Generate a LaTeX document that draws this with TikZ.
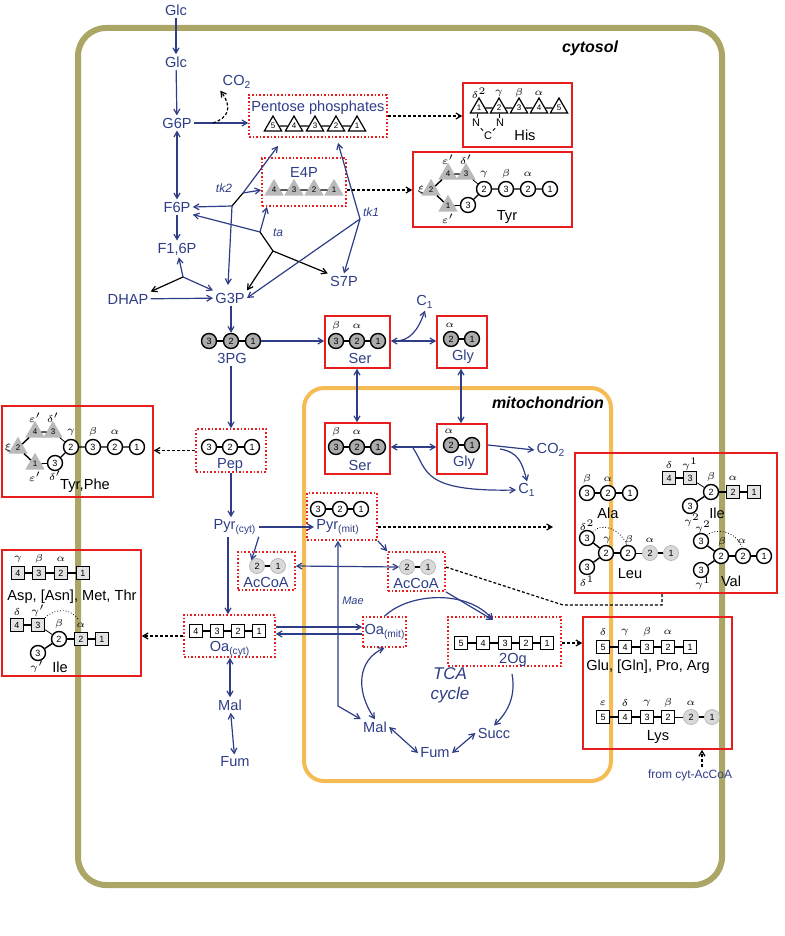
\documentclass[tikz,border=0pt]{standalone}
\usepackage{fontspec}
\setmainfont{Liberation Sans}
\usetikzlibrary{arrows.meta,shapes.geometric,fit}
\definecolor{myblue}{RGB}{46,61,134}
\definecolor{olive}{RGB}{172,166,102}
\definecolor{orng}{RGB}{245,188,85}
\definecolor{myred}{RGB}{232,30,30}
\newcommand\ileunit[4]{%
\begin{scope}[shift={(#2,#3)}]
\node[sg] (#1a) at (17,625) {4};
\node[sg] (#1b) at (38,625) {3};
\node[c] (#1c) at (59,639) {2};
\node[sg] (#1d) at (81,639) {2};
\node[sg] (#1e) at (102,639) {1};
\node[c] (#1f) at (38,653) {3};
\draw[bnd] (#1a)--(#1b); \draw[thin] (#1b)--(#1c); \draw[bnd] (#1c)--(#1d)--(#1e); \draw[bnd] (#1c)--(#1f);
\node[gk] at (17,612) {$\delta$};
\node[gk] at (38,611) {$#4$};
\node[gk] at (59,624) {$\beta$};
\node[gk] at (81,625) {$\alpha$};
\end{scope}}
\newcommand\tyrunit[3]{%
\begin{scope}[shift={(#2,#3)}]
\node[tg] (#1x) at (431,190) {2};
\node[tg] (#1d) at (448,174) {4};
\node[tg] (#1e) at (466,174) {3};
\node[tg] (#1a) at (448,206) {1};
\node[c] (#1f) at (468,205) {3};
\node[c] (#1g) at (484,189) {2};
\node[c] (#1h) at (506,189) {3};
\node[c] (#1i) at (528,189) {2};
\node[c] (#1j) at (550,189) {1};
\draw[bnd] (#1x)--(#1d)--(#1e); \draw[thin] (#1e)--(#1g);
\draw[bnd] (#1x)--(#1a); \draw[thin] (#1a)--(#1f); \draw[bnd] (#1f)--(#1g)--(#1h)--(#1i)--(#1j);
\node[gk] at (421,190) {$\xi$};
\node[gk] at (448,160) {$\varepsilon'$};
\node[gk] at (466,160) {$\delta'$};
\node[gk] at (484,174) {$\gamma$};
\node[gk] at (506,174) {$\beta$};
\node[gk] at (528,174) {$\alpha$};
\node[gk] at (448,219) {$\varepsilon'$};
\end{scope}}
\begin{document}
\begin{tikzpicture}[x=0.5pt,y=-0.5pt,
 >={Straight Barb[angle=60:3pt]},
 lbl/.style={text=myblue,font=\fontsize{7.3}{8}\selectfont,inner sep=1pt},
 aa/.style={font=\fontsize{7.3}{8}\selectfont,inner sep=1pt},
 c/.style={circle,draw,line width=0.7pt,fill=white,minimum size=7.5pt,inner sep=0pt,font=\fontsize{4.5}{5}\selectfont},
 cg/.style={c,fill=gray!65},
 cl/.style={c,fill=gray!30,draw=gray!55,line width=0.4pt},
 s/.style={rectangle,draw,line width=0.7pt,fill=white,minimum size=6.5pt,inner sep=0pt,font=\fontsize{4.5}{5}\selectfont},
 sg/.style={s,fill=gray!22},
 t/.style={regular polygon,regular polygon sides=3,draw,line width=0.6pt,fill=white,minimum size=10pt,inner sep=0pt,font=\fontsize{4}{4}\selectfont},
 tg/.style={t,fill=gray!55,draw=gray!55},
 gk/.style={font=\fontsize{4.5}{5}\selectfont,inner sep=0pt},
 bnd/.style={line width=0.7pt},
 pbox/.style={draw=myred,densely dotted,line width=0.8pt,inner sep=0pt},
 abox/.style={draw=myred,line width=0.8pt,inner sep=0pt},
 arr/.style={myblue,line width=0.6pt,->},
 darr/.style={myblue,line width=0.6pt,<->},
 blk/.style={black,line width=0.6pt},
 dot/.style={black,line width=0.6pt,dash pattern=on 1.5pt off 1pt}]
\useasboundingbox (0,0) rectangle (785,936);
% compartments
\draw[olive,line width=3pt,rounded corners=14pt] (78,28) rectangle (722,885);
\node[font=\bfseries\itshape\fontsize{8}{9}\selectfont] (cyt) at (590,48) {cytosol};
\draw[orng,line width=2pt,rounded corners=10pt] (304,388) rectangle (611,781);
\node[font=\bfseries\itshape\fontsize{8}{9}\selectfont] (mit) at (548,403) {mitochondrion};
% upper glycolysis labels
\node[lbl] (glc0) at (176,10) {Glc};
\node[lbl] (glc) at (176,62) {Glc};
\node[lbl] (g6p) at (177,123) {G6P};
\node[lbl] (co2a) at (237,82) {CO\textsubscript{2}};
\node[lbl] (f6p) at (177,207) {F6P};
\node[lbl] (f16p) at (177,249) {F1,6P};
\node[lbl] (dhap) at (128,299) {DHAP};
\node[lbl] (g3p) at (230,298) {G3P};
\node[lbl] (s7p) at (344,281) {S7P};
\node[lbl,font=\itshape\fontsize{6}{7}\selectfont] (tk2) at (224,188) {tk2};
\node[lbl,font=\itshape\fontsize{6}{7}\selectfont] (ta) at (278,233) {ta};
\node[lbl,font=\itshape\fontsize{6}{7}\selectfont] (tk1) at (371,212) {tk1};
% pentose phosphates
\node[pbox,fit={(249,95) (387,137)}] (pp) {};
\node[lbl] (ppl) at (318,108) {Pentose phosphates};
\node[t] (p5) at (273,126) {5};
\node[t] (p4) at (294,126) {4};
\node[t] (p3) at (315,126) {3};
\node[t] (p2) at (336,126) {2};
\node[t] (p1) at (357,126) {1};
\draw[bnd] (p5)--(p4)--(p3)--(p2)--(p1);
% E4P
\node[pbox,fit={(262,158) (346,206)}] (e4p) {};
\node[lbl] (e4pl) at (304,172) {E4P};
\node[tg] (e4) at (274,190) {4};
\node[tg] (e3) at (294,190) {3};
\node[tg] (e2) at (314,190) {2};
\node[tg] (e1) at (334,190) {1};
\draw[bnd] (e4)--(e3)--(e2)--(e1);
% His
\node[abox,fit={(463,83) (572,147)}] (his) {};
\node[t] (h1) at (479,108) {1};
\node[t] (h2) at (499,108) {2};
\node[t] (h3) at (519,108) {3};
\node[t] (h4) at (539,108) {4};
\node[t] (h5) at (559,108) {5};
\draw[bnd] (h1)--(h2)--(h3)--(h4)--(h5);
\node[gk] at (479,93) {$\delta^2$};
\node[gk] at (499,93) {$\gamma$};
\node[gk] at (519,93) {$\beta$};
\node[gk] at (539,93) {$\alpha$};
\node[gk,font=\fontsize{5.5}{6}\selectfont,inner sep=0.5pt] (hn1) at (476,123) {N};
\node[gk,font=\fontsize{5.5}{6}\selectfont,inner sep=0.5pt] (hn2) at (500,123) {N};
\node[gk,font=\fontsize{5.5}{6}\selectfont,inner sep=0.5pt] (hc) at (488,136) {C};
\draw[thin] (h1)--(hn1)--(hc)--(hn2)--(h2);
\node[aa] (hisl) at (525,135) {His};
% Tyr
\node[abox,fit={(413,152) (572,227)}] (tyr) {};
\tyrunit{ty}{0}{0}
\node[aa] (tyrl) at (507,217) {Tyr};
% Tyr,Phe
\node[abox,fit={(2,406) (153,497)}] (tyrphe) {};
\tyrunit{tp}{-413}{258}
\node[gk] at (55,476) {$\delta'$};
\node[aa] (tpl) at (85,486) {Tyr,Phe};
% 3PG, Ser, Gly cytosol
\node[cg] (g3) at (209,341) {3};
\node[cg] (g2) at (231,341) {2};
\node[cg] (g1) at (253,341) {1};
\draw[bnd] (g3)--(g2)--(g1);
\node[lbl] (pg3) at (232,358) {3PG};
\node[abox,fit={(325,316) (390,368)}] (serc) {};
\node[cg] (sc3) at (336,341) {3};
\node[cg] (sc2) at (357,341) {2};
\node[cg] (sc1) at (378,341) {1};
\draw[bnd] (sc3)--(sc2)--(sc1);
\node[gk] at (336,326) {$\beta$};
\node[gk] at (357,326) {$\alpha$};
\node[lbl] at (360,358) {Ser};
\node[abox,fit={(437,316) (487,368)}] (glyc) {};
\node[cg] (gc2) at (451,339) {2};
\node[cg] (gc1) at (472,339) {1};
\draw[bnd] (gc2)--(gc1);
\node[gk] at (450,325) {$\alpha$};
\node[lbl] at (463,357) {Gly};
\node[lbl] (c1a) at (425,302) {C\textsubscript{1}};
% mito Ser, Gly
\node[abox,fit={(325,423) (390,474)}] (serm) {};
\node[cg] (sm3) at (336,447) {3};
\node[cg] (sm2) at (357,447) {2};
\node[cg] (sm1) at (378,447) {1};
\draw[bnd] (sm3)--(sm2)--(sm1);
\node[gk] at (336,432) {$\beta$};
\node[gk] at (357,432) {$\alpha$};
\node[lbl] at (360,465) {Ser};
\node[abox,fit={(437,424) (487,474)}] (glym) {};
\node[cg] (gm2) at (451,445) {2};
\node[cg] (gm1) at (472,445) {1};
\draw[bnd] (gm2)--(gm1);
\node[gk] at (449,431) {$\alpha$};
\node[lbl] at (464,463) {Gly};
\node[lbl] (co2m) at (551,450) {CO\textsubscript{2}};
\node[lbl] (c1m) at (527,490) {C\textsubscript{1}};
% Pep
\node[pbox,fit={(196,429) (266,472)}] (pep) {};
\node[c] (pe3) at (209,447) {3};
\node[c] (pe2) at (230,447) {2};
\node[c] (pe1) at (252,447) {1};
\draw[bnd] (pe3)--(pe2)--(pe1);
\node[lbl] at (230,465) {Pep};
% Pyr cyt etc
\node[lbl] (pyrc) at (235,527) {Pyr\textsubscript{(cyt)}};
\node[pbox,fit={(238,552) (295,590)}] (acc) {};
\node[cl] (ac2) at (257,566) {2};
\node[cl] (ac1) at (278,566) {1};
\draw[bnd] (ac2)--(ac1);
\node[lbl] at (266,582) {AcCoA};
\node[pbox,fit={(184,615) (275,657)}] (oac) {};
\node[s] (o4) at (196,631) {4};
\node[s] (o3) at (217,631) {3};
\node[s] (o2) at (238,631) {2};
\node[s] (o1) at (259,631) {1};
\draw[bnd] (o4)--(o3)--(o2)--(o1);
\node[lbl] at (230,649) {Oa\textsubscript{(cyt)}};
\node[lbl] (malc) at (230,705) {Mal};
\node[lbl] (fumc) at (235,762) {Fum};
% Asp box
\node[abox,fit={(2,550) (141,676)}] (asp) {};
\node[sg] (as4) at (18,573) {4};
\node[sg] (as3) at (39,573) {3};
\node[sg] (as2) at (61,573) {2};
\node[sg] (as1) at (83,573) {1};
\draw[bnd] (as4)--(as3)--(as2)--(as1);
\node[gk] at (18,559) {$\gamma$};
\node[gk] at (39,559) {$\beta$};
\node[gk] at (61,559) {$\alpha$};
\node[aa] at (72,597) {Asp, [Asn], Met, Thr};
\ileunit{ia}{0}{0}{\gamma'}
\draw[densely dotted,thin] (iab.north east) .. controls (58,606) and (72,610) .. (79,620);
\node[gk] at (37,667) {$\gamma'$};
\node[aa] at (60,667) {Ile};
% mito Pyr etc
\node[pbox,fit={(307,493) (377,540)}] (pyrmb) {};
\node[c] (pm3) at (318,509) {3};
\node[c] (pm2) at (340,509) {2};
\node[c] (pm1) at (361,509) {1};
\draw[bnd] (pm3)--(pm2)--(pm1);
\node[lbl] (pyrm) at (338,527) {Pyr\textsubscript{(mit)}};
\node[pbox,fit={(388,552) (445,591)}] (acm) {};
\node[cl] (am2) at (407,567) {2};
\node[cl] (am1) at (428,567) {1};
\draw[bnd] (am2)--(am1);
\node[lbl] at (416,583) {AcCoA};
\node[pbox,fit={(363,617) (406,647)}] (oam) {};
\node[lbl] (oaml) at (385,632) {Oa\textsubscript{(mit)}};
\node[pbox,fit={(448,617) (561,666)}] (og) {};
\node[s] (q5) at (461,643) {5};
\node[s] (q4) at (483,643) {4};
\node[s] (q3) at (505,643) {3};
\node[s] (q2) at (526,643) {2};
\node[s] (q1) at (547,643) {1};
\draw[bnd] (q5)--(q4)--(q3)--(q2)--(q1);
\node[lbl] at (513,660) {2Og};
\node[lbl,font=\itshape\fontsize{8.5}{10}\selectfont,align=center] (tca) at (450,685) {TCA\\cycle};
\node[lbl,font=\itshape\fontsize{5.5}{6}\selectfont] (mae) at (353,601) {Mae};
\node[lbl] (malm) at (375,727) {Mal};
\node[lbl] (fumm) at (435,753) {Fum};
\node[lbl] (succ) at (494,733) {Succ};
% right BCAA box
\node[abox,fit={(575,453) (777,593)}] (bca) {};
\node[c] (la3) at (587,493) {3};
\node[c] (la2) at (608,493) {2};
\node[c] (la1) at (630,493) {1};
\draw[bnd] (la3)--(la2)--(la1);
\node[gk] at (587,479) {$\beta$};
\node[gk] at (608,479) {$\alpha$};
\node[aa] at (608,513) {Ala};
\ileunit{ib}{652}{-147}{\gamma^1}
\node[gk] at (692,520) {$\gamma^2$};
\node[aa] at (717,513) {Ile};
\node[c] (lu3a) at (587,538) {3};
\node[c] (lu3b) at (587,567) {3};
\node[c] (lu2a) at (606,553) {2};
\node[c] (lu2b) at (628,553) {2};
\node[cl] (lu2c) at (650,553) {2};
\node[cl] (lu1) at (671,553) {1};
\draw[bnd] (lu3a)--(lu2a); \draw[bnd] (lu3b)--(lu2a); \draw[bnd] (lu2a)--(lu2b); \draw[thin] (lu2b)--(lu2c); \draw[bnd] (lu2c)--(lu1);
\draw[densely dotted,thin] (lu3a.north east) .. controls (600,522) and (620,528) .. (627,545);
\node[gk] at (587,525) {$\delta^2$};
\node[gk] at (607,540) {$\gamma$};
\node[gk] at (629,540) {$\beta$};
\node[gk] at (650,540) {$\alpha$};
\node[gk] at (587,581) {$\delta^1$};
\node[aa] at (630,574) {Leu};
\node[c] (va3a) at (701,541) {3};
\node[c] (va3b) at (701,570) {3};
\node[c] (va2a) at (721,556) {2};
\node[c] (va2b) at (743,556) {2};
\node[c] (va1) at (764,556) {1};
\draw[bnd] (va3a)--(va2a); \draw[bnd] (va3b)--(va2a); \draw[bnd] (va2a)--(va2b)--(va1);
\draw[densely dotted,thin] (va3a.north east) .. controls (715,528) and (735,530) .. (742,547);
\node[gk] at (703,527) {$\gamma^2$};
\node[gk] at (722,542) {$\beta$};
\node[gk] at (742,541) {$\alpha$};
\node[gk] at (703,583) {$\gamma^1$};
\node[aa] at (731,581) {Val};
% Glu / Lys box
\node[abox,fit={(583,617) (732,749)}] (glu) {};
\node[s] (u5) at (603,647) {5};
\node[s] (u4) at (625,647) {4};
\node[s] (u3) at (647,647) {3};
\node[s] (u2) at (668,647) {2};
\node[s] (u1) at (690,647) {1};
\draw[bnd] (u5)--(u4)--(u3)--(u2)--(u1);
\node[gk] at (603,632) {$\delta$};
\node[gk] at (625,632) {$\gamma$};
\node[gk] at (647,632) {$\beta$};
\node[gk] at (668,632) {$\alpha$};
\node[aa] at (648,667) {Glu, [Gln], Pro, Arg};
\node[s] (y5) at (603,717) {5};
\node[s] (y4) at (625,717) {4};
\node[s] (y3) at (647,717) {3};
\node[s] (y2) at (668,717) {2};
\node[cl] (y2b) at (691,717) {2};
\node[cl] (y1) at (712,717) {1};
\draw[bnd] (y5)--(y4)--(y3)--(y2); \draw[thin] (y2)--(y2b); \draw[bnd] (y2b)--(y1);
\node[gk] at (603,703) {$\varepsilon$};
\node[gk] at (625,703) {$\delta$};
\node[gk] at (647,703) {$\gamma$};
\node[gk] at (668,703) {$\beta$};
\node[gk] at (691,703) {$\alpha$};
\node[aa] at (658,737) {Lys};
\node[lbl,font=\fontsize{6}{7}\selectfont] (fromac) at (690,775) {from cyt-AcCoA};
% ---- connectors upper
\coordinate (j2) at (232,206); \coordinate (j2b) at (243,193);
\coordinate (ja) at (260,232); \coordinate (jb) at (273,251);
\coordinate (j1) at (360,219); \coordinate (jd) at (183,277);
\draw[arr] (glc0)--(glc);
\draw[arr] (glc)--(g6p);
\draw[arr] (g6p)--(pp.west |- g6p);
\draw[dot,->] (213,123) .. controls (228,118) and (233,108) .. (co2a.south west);
\draw[darr] (g6p)--(f6p);
\draw[arr] (f6p)--(f16p);
\draw[blk] (j2)--(j2b);
\draw[arr] (j2b)--(278,146);
\draw[arr] (j2b)--(e4p.west |- e4);
\draw[arr] (j2)--(f6p.east);
\draw[arr] (j2)--(228,285);
\draw[arr] (ja)--(267,207);
\draw[arr] (ja)--(f6p.south east);
\draw[blk] (ja)--(jb);
\draw[blk,->] (jb)--(g3p.north east);
\draw[blk,->] (jb)--(s7p.north west);
\draw[arr] (j1)--(338,143);
\draw[arr] (j1)--(s7p.north);
\draw[arr] (j1)--(g3p.east);
\draw[arr] (jd)--(f16p);
\draw[blk,->] (jd)--(dhap.north east);
\draw[arr] (jd)--(g3p.north west);
\draw[arr] (dhap)--(g3p);
\draw[dot,->] (pp.east)--(his.west |- pp.east);
\draw[dot,->] (e4p.east |- e1)--(tyr.west |- e1);
\draw[arr] (g3p.south -| g2)--(g2.north);
\draw[arr] (g1)--(serc.west |- g1);
\draw[darr] (serc.east |- sc1)--(glyc.west |- sc1);
\draw[arr] (393,341) .. controls (410,342) and (418,330) .. (c1a.south);
\draw[darr] (serc.south -| 357,0)--(serm.north -| 357,0);
\draw[darr] (glyc.south -| 461,0)--(glym.north -| 461,0);
\draw[darr] (serm.east |- sm1)--(glym.west |- sm1);
\draw[arr] (413,448) .. controls (428,470) and (420,492) .. (c1m.west);
\draw[arr] (glym.east |- gm1)--(co2m.west);
\draw[arr] (500,449) .. controls (518,452) and (522,462) .. (c1m.north);
\draw[arr] (pg3.south -| pep.north)--(pep.north);
\draw[dot,->] (pep.west)--(tyrphe.east |- pep.west);
\draw[arr] (pep.south)--(pyrc.north -| pep.south);
\draw[arr] (pyrc)--(pyrm.west);
\draw[arr] (pyrc.south east)--(ac2.north west);
\draw[arr] (pyrc.south -| 228,0)--(oac.north -| 228,0);
\draw[darr] (acc.east |- ac1)--(am2.west);
\draw[arr] (oac.east |- 0,627)--(oam.west |- 0,627);
\draw[arr] (oam.west |- 0,634)--(oac.east |- 0,634);
\draw[dot,->] (oac.west)--(asp.east |- oac.west);
\draw[darr] (oac.south -| malc)--(malc);
\draw[darr] (malc)--(fumc);
\draw[arr] (pyrmb.south east)--(acm.north west);
\draw[arr] (acm.south east)--(493,620);
\draw[arr] (oam.north) .. controls (410,592) and (468,590) .. (493,620);
\draw[arr] (512,674) .. controls (516,696) and (508,712) .. (succ.north);
\draw[darr] (succ.west)--(fumm.east);
\draw[darr] (fumm.west)--(malm.east);
\draw[darr] (malm.north) .. controls (355,690) and (358,660) .. (oam.south);
\draw[darr] (pyrmb.south -| 338,0)--(338,706)--(malm.north west);
\draw[dot,->] (pyrmb.east |- pyrm)--(553,527);
\draw[dot] (acm.east |- am1)--(563,605)--(662,605)--(bca.south -| 662,0);
\draw[dot,->] (og.east |- q1)--(glu.west |- q1);
\draw[dot,->] (fromac.north -| 702,0)--(glu.south -| 702,0);
\end{tikzpicture}
\end{document}
